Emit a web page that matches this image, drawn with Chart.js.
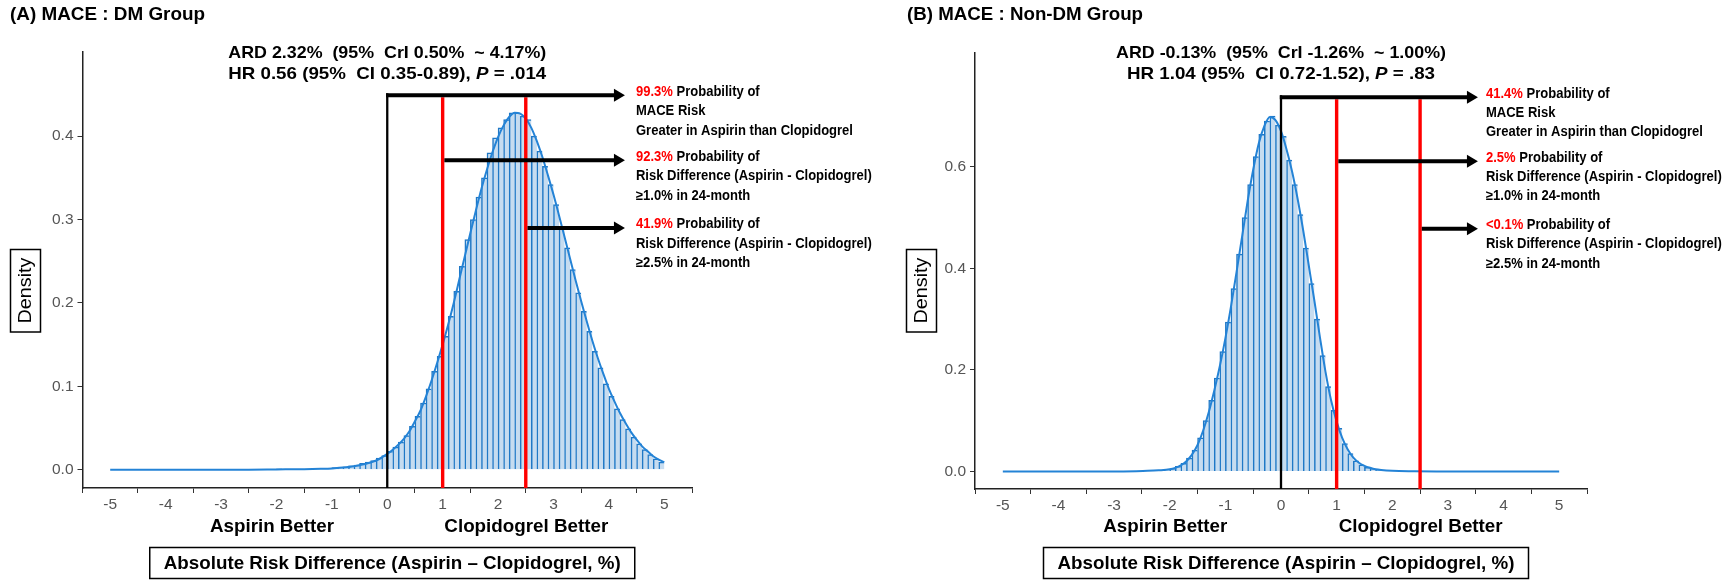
<!DOCTYPE html>
<html>
<head>
<meta charset="utf-8">
<script src="https://cdn.jsdelivr.net/npm/chart.js@4.4.1/dist/chart.umd.min.js"></script>
<style>
  body { margin: 0; background: #fff; width: 1736px; height: 580px; overflow: hidden; position: relative; }
  canvas { position: absolute; top: 0; }
  #chartA { left: 0; }
  #chartB { left: 868px; }
</style>
</head>
<body>
<canvas id="chartA" width="890" height="580"></canvas>
<canvas id="chartB" width="868" height="580"></canvas>
<script>
// ---- data ----
const xTicks = [-5, -4, -3, -2, -1, 0, 1, 2, 3, 4, 5];
const yTicksA = [0, 0.1, 0.2, 0.3, 0.4];
const yTicksB = [0, 0.2, 0.4, 0.6];

// panel A histogram (bin width 0.1, bin centres)
const binsA = [
  -1.95, -1.85, -1.75, -1.65, -1.55, -1.45, -1.35, -1.25, -1.15, -1.05,
  -0.95, -0.85, -0.75, -0.65, -0.55, -0.45, -0.35, -0.25, -0.15, -0.05,
  0.05, 0.15, 0.25, 0.35, 0.45, 0.55, 0.65, 0.75, 0.85, 0.95,
  1.05, 1.15, 1.25, 1.35, 1.45, 1.55, 1.65, 1.75, 1.85, 1.95,
  2.05, 2.15, 2.25, 2.35, 2.45, 2.55, 2.65, 2.75, 2.85, 2.95,
  3.05, 3.15, 3.25, 3.35, 3.45, 3.55, 3.65, 3.75, 3.85, 3.95,
  4.05, 4.15, 4.25, 4.35, 4.45, 4.55, 4.65, 4.75, 4.85, 4.95
];
const histA = [
  0.001, 0.0003, 0, 0.0003, 0.0005, 0.0005, 0.0007, 0.0009, 0.0011, 0.0014,
  0.0025, 0.003, 0.0035, 0.0045, 0.0055, 0.0075, 0.009, 0.011, 0.014, 0.017,
  0.022, 0.027, 0.033, 0.041, 0.052, 0.064, 0.08, 0.097, 0.118, 0.136,
  0.16, 0.184, 0.214, 0.244, 0.276, 0.3, 0.327, 0.35, 0.38, 0.398,
  0.41, 0.42, 0.428, 0.428, 0.424, 0.42, 0.4, 0.382, 0.364, 0.342,
  0.318, 0.292, 0.266, 0.24, 0.212, 0.19, 0.166, 0.142, 0.122, 0.103,
  0.088, 0.073, 0.06, 0.049, 0.039, 0.031, 0.024, 0.018, 0.013, 0.009
];
// panel A density curve
const densXA = [-5, -2.5, -2, -1.5, -1.2, -1, -0.8, -0.6, -0.4, -0.2,
  0, 0.1, 0.2, 0.3, 0.4, 0.5, 0.6, 0.7, 0.8, 0.9,
  1, 1.1, 1.2, 1.3, 1.4, 1.5, 1.6, 1.7, 1.8, 1.9,
  2, 2.1, 2.2, 2.3, 2.4, 2.5, 2.6, 2.7, 2.8, 2.9,
  3, 3.1, 3.2, 3.3, 3.4, 3.5, 3.6, 3.7, 3.8, 3.9,
  4, 4.1, 4.2, 4.3, 4.4, 4.5, 4.6, 4.7, 4.8, 4.9, 5];
const densYA = [0, 0, 0.0003, 0.0006, 0.001, 0.0015, 0.0026, 0.0042, 0.0068, 0.011,
  0.019, 0.024, 0.03, 0.037, 0.046, 0.058, 0.071, 0.088, 0.107, 0.128,
  0.15, 0.174, 0.2, 0.228, 0.256, 0.284, 0.311, 0.337, 0.36, 0.381,
  0.399, 0.413, 0.423, 0.428, 0.427, 0.421, 0.41, 0.394, 0.375, 0.353,
  0.33, 0.305, 0.279, 0.253, 0.227, 0.202, 0.178, 0.155, 0.134, 0.115,
  0.097, 0.082, 0.068, 0.056, 0.045, 0.036, 0.028, 0.022, 0.016, 0.012, 0.009];

// panel B histogram
const binsB = [
  -2.95, -2.85, -2.75, -2.65, -2.55, -2.45, -2.35, -2.25, -2.15, -2.05,
  -1.95, -1.85, -1.75, -1.65, -1.55, -1.45, -1.35, -1.25, -1.15, -1.05,
  -0.95, -0.85, -0.75, -0.65, -0.55, -0.45, -0.35, -0.25, -0.15, -0.05,
  0.05, 0.15, 0.25, 0.35, 0.45, 0.55, 0.65, 0.75, 0.85, 0.95,
  1.05, 1.15, 1.25, 1.35, 1.45, 1.55, 1.65, 1.75, 1.85, 1.95,
  2.05, 2.15, 2.25, 2.35, 2.45, 2.55, 2.65, 2.75, 2.85, 2.95
];
const histB = [
  0, 0.0008, 0, 0, 0.0003, 0.0006, 0.0008, 0.0012, 0.002, 0.003,
  0.005, 0.01, 0.016, 0.026, 0.042, 0.066, 0.1, 0.14, 0.184, 0.236,
  0.294, 0.36, 0.428, 0.5, 0.565, 0.62, 0.664, 0.69, 0.7, 0.682,
  0.66, 0.613, 0.565, 0.506, 0.44, 0.37, 0.3, 0.228, 0.167, 0.12,
  0.085, 0.055, 0.035, 0.021, 0.013, 0.008, 0.005, 0.003, 0.002, 0.0012,
  0.0008, 0.0005, 0.0003, 0.0002, 0, 0, 0, 0.0008, 0, 0
];
const densXB = [-5, -3, -2.6, -2.4, -2.2, -2, -1.9, -1.8, -1.7, -1.6,
  -1.5, -1.4, -1.3, -1.2, -1.1, -1, -0.9, -0.8, -0.7, -0.6,
  -0.5, -0.4, -0.3, -0.2, -0.1, 0, 0.1, 0.2, 0.3, 0.4,
  0.5, 0.6, 0.7, 0.8, 0.9, 1, 1.1, 1.2, 1.3, 1.4,
  1.5, 1.6, 1.7, 1.8, 2, 2.4, 2.8, 5];
const densYB = [0, 0, 0.0005, 0.001, 0.002, 0.004, 0.007, 0.012, 0.02, 0.033,
  0.052, 0.08, 0.116, 0.159, 0.207, 0.262, 0.324, 0.392, 0.462, 0.532,
  0.594, 0.646, 0.68, 0.698, 0.692, 0.67, 0.634, 0.59, 0.536, 0.474,
  0.405, 0.336, 0.264, 0.196, 0.14, 0.098, 0.066, 0.043, 0.027, 0.017,
  0.011, 0.007, 0.004, 0.0025, 0.001, 0.0003, 0, 0];

// thresholds (black line at 0, red lines at 1 and 2.5) and arrow levels
const cutoffs = [0, 1, 2.5];
const arrowYA = [0.449, 0.371, 0.29];
const arrowYB = [0.737, 0.611, 0.478];
const arrowTipA = 4.29;
const arrowTipB = 3.54;
const probsA = ['99.3%', '92.3%', '41.9%'];
const probsB = ['41.4%', '2.5%', '<0.1%'];
const probLines = [
  ['MACE Risk', 'Greater in Aspirin than Clopidogrel'],
  ['Risk Difference (Aspirin - Clopidogrel)', '\u22651.0% in 24-month'],
  ['Risk Difference (Aspirin - Clopidogrel)', '\u22652.5% in 24-month']
];
const betterX = [-2.08, 2.51];

const FAM = '"Liberation Sans", Arial, sans-serif';
const FILL = '#c6dcf0';
const EDGE = '#1f78c6';
const LINE = '#2483d6';

Chart.defaults.font.family = FAM;

// draw runs of differently styled text, squeezed/stretched to a target width (or by a factor)
function runs(ctx, parts, x, y, align, width, scale) {
  let natural = 0;
  parts.forEach(p => { ctx.font = p[1]; natural += ctx.measureText(p[0]).width; });
  const sx = width ? width / natural : (scale || 1);
  const w = natural * sx;
  const start = align === 'center' ? x - w / 2 : (align === 'right' ? x - w : x);
  ctx.save();
  ctx.translate(start, y);
  ctx.scale(sx, 1);
  ctx.textAlign = 'left';
  ctx.textBaseline = 'middle';
  let cx = 0;
  parts.forEach(p => {
    ctx.font = p[1];
    ctx.fillStyle = p[2] || '#000';
    ctx.fillText(p[0], cx, 0);
    cx += ctx.measureText(p[0]).width;
  });
  ctx.restore();
}

function arrow(ctx, x0, x1, y) {
  ctx.strokeStyle = '#000';
  ctx.fillStyle = '#000';
  ctx.lineWidth = 4;
  ctx.beginPath();
  ctx.moveTo(x0, y);
  ctx.lineTo(x1 - 9, y);
  ctx.stroke();
  ctx.beginPath();
  ctx.moveTo(x1, y);
  ctx.lineTo(x1 - 11, y - 6.5);
  ctx.lineTo(x1 - 11, y + 6.5);
  ctx.closePath();
  ctx.fill();
}

function annotations(o) {
  return {
    id: 'annot' + o.tag,
    afterDatasetsDraw(chart) {
      const ctx = chart.ctx, xs = chart.scales.x, ys = chart.scales.y, area = chart.chartArea;
      const top = ys.getPixelForValue(o.arrowY[0]);
      ctx.save();
      // vertical reference lines
      cutoffs.forEach((c, i) => {
        const px = xs.getPixelForValue(c);
        ctx.beginPath();
        ctx.strokeStyle = i === 0 ? '#000' : '#ff0000';
        ctx.lineWidth = i === 0 ? 2.3 : 3.4;
        ctx.moveTo(px, i === 0 ? top - 2 : top + 2);
        ctx.lineTo(px, area.bottom);
        ctx.stroke();
      });
      // arrows and their notes
      const tip = xs.getPixelForValue(o.arrowTip);
      const f = 'bold 14px ' + FAM;
      cutoffs.forEach((c, i) => {
        const px = xs.getPixelForValue(c);
        const y = ys.getPixelForValue(o.arrowY[i]);
        arrow(ctx, i === 0 ? px - 1.2 : px + 1.7, tip, y);
        const tx = tip + o.textGap;
        runs(ctx, [[o.probs[i], f, '#ff0000'], [' Probability of', f, '#000']], tx, y - 3.5, 'left', null, 0.93);
        probLines[i].forEach((t, k) => {
          runs(ctx, [[t, f, '#000']], tx, y - 3.5 + 19.4 * (k + 1), 'left', null, 0.93);
        });
      });
      ctx.restore();
    },
    afterDraw(chart) {
      const ctx = chart.ctx, xs = chart.scales.x;
      const zero = xs.getPixelForValue(0);
      ctx.save();
      runs(ctx, [[o.title, 'bold 18.5px ' + FAM, '#000']], o.titleX, 15, 'left', o.titleW);
      runs(ctx, [[o.ard, 'bold 17px ' + FAM, '#000']], zero, 53, 'center', o.ardW);
      runs(ctx, [[o.hr[0], 'bold 17px ' + FAM, '#000'], [o.hr[1], 'italic bold 17px ' + FAM, '#000'], [o.hr[2], 'bold 17px ' + FAM, '#000']], zero, 74, 'center', o.hrW);
      runs(ctx, [['Aspirin Better', 'bold 18.5px ' + FAM, '#000']], xs.getPixelForValue(betterX[0]), 527, 'center', 124);
      runs(ctx, [['Clopidogrel Better', 'bold 18.5px ' + FAM, '#000']], xs.getPixelForValue(betterX[1]), 527, 'center', 164);
      // x title box
      const bc = zero + 5;
      ctx.strokeStyle = '#000';
      ctx.lineWidth = 1.5;
      ctx.strokeRect(bc - 242.5, 547.5, 485, 31);
      runs(ctx, [['Absolute Risk Difference (Aspirin \u2013 Clopidogrel, %)', 'bold 18.5px ' + FAM, '#000']], bc, 563.5, 'center', 457);
      // y title box
      ctx.strokeRect(o.densX, 249.5, 30, 82.5);
      ctx.save();
      ctx.translate(o.densX + 15.5, 290.5);
      ctx.rotate(-Math.PI / 2);
      runs(ctx, [['Density', '18px ' + FAM, '#000']], 0, 0, 'center', 66);
      ctx.restore();
      ctx.restore();
    }
  };
}

function makeChart(id, o) {
  const axisGrid = { display: true, drawOnChartArea: false, drawTicks: true, tickLength: 5, color: '#333', lineWidth: 1 };
  const axisBorder = { display: true, color: '#222', width: 1.5 };
  return new Chart(document.getElementById(id), {
    type: 'bar',
    data: {
      datasets: [
        {
          type: 'line',
          data: o.densX2.map((x, i) => ({ x: x, y: o.densY[i] })),
          borderColor: LINE,
          borderWidth: 2,
          pointRadius: 0,
          cubicInterpolationMode: 'monotone',
          order: 0
        },
        {
          type: 'bar',
          data: o.bins.map((x, i) => ({ x: x, y: o.hist[i] })),
          backgroundColor: FILL,
          borderColor: EDGE,
          borderWidth: { top: 1.5, left: 1.5, right: 0, bottom: 0 },
          barPercentage: 1,
          categoryPercentage: 1,
          order: 1
        }
      ]
    },
    options: {
      responsive: false,
      animation: false,
      devicePixelRatio: 1,
      layout: { padding: o.pad },
      plugins: { legend: { display: false }, tooltip: { enabled: false } },
      scales: {
        x: {
          type: 'linear', min: -5.5, max: 5.5, offset: false,
          afterBuildTicks: s => { s.ticks = xTicks.map(v => ({ value: v })); },
          afterFit: s => { s.height = o.xh; },
          grid: axisGrid, border: axisBorder,
          ticks: { color: '#555', font: { size: 15.5 }, padding: 2, maxRotation: 0, autoSkip: false, callback: v => String(v) }
        },
        y: {
          min: o.ymin, max: o.ymax,
          afterBuildTicks: s => { s.ticks = o.yTicks.map(v => ({ value: v })); },
          afterFit: s => { s.width = o.yw; },
          grid: axisGrid, border: axisBorder,
          ticks: { color: '#555', font: { size: 15.5 }, padding: 4, callback: v => v.toFixed(1) }
        }
      }
    },
    plugins: [annotations(o)]
  });
}

makeChart('chartA', {
  tag: 'A', bins: binsA, hist: histA, densX2: densXA, densY: densYA,
  yTicks: yTicksA, ymin: -0.022, ymax: 0.501,
  pad: { left: 0, right: 198, top: 52, bottom: 0 }, yw: 82.5, xh: 92,
  arrowY: arrowYA, arrowTip: arrowTipA, textGap: 11, probs: probsA,
  title: '(A) MACE : DM Group', titleX: 10, titleW: 195,
  ard: 'ARD 2.32%  (95%  CrI 0.50%  ~ 4.17%)', ardW: 318,
  hr: ['HR 0.56 (95%  CI 0.35-0.89), ', 'P', ' = .014'], hrW: 318,
  densX: 10.5
});

makeChart('chartB', {
  tag: 'B', bins: binsB, hist: histB, densX2: densXB, densY: densYB,
  yTicks: yTicksB, ymin: -0.0347, ymax: 0.824,
  pad: { left: 0, right: 149, top: 53, bottom: 0 }, yw: 107, xh: 91,
  arrowY: arrowYB, arrowTip: arrowTipB, textGap: 8, probs: probsB,
  title: '(B) MACE : Non-DM Group', titleX: 39, titleW: 236,
  ard: 'ARD -0.13%  (95%  CrI -1.26%  ~ 1.00%)', ardW: 330,
  hr: ['HR 1.04 (95%  CI 0.72-1.52), ', 'P', ' = .83'], hrW: 308,
  densX: 38.5
});
</script>
</body>
</html>
